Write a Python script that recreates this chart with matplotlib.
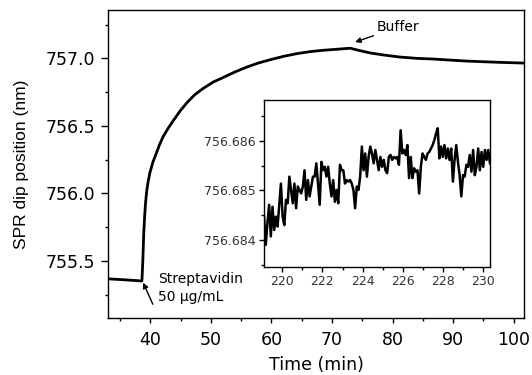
import numpy as np
import matplotlib
matplotlib.use("Agg")
from matplotlib import pyplot as plt
from matplotlib.ticker import MultipleLocator, FormatStrFormatter

plt.rcParams['font.family'] = ['DejaVu Sans']

# main sensorgram (time in min, dip position in nm)
time_main = [33.0, 36.0, 38.6, 38.75, 38.9, 39.05, 39.2, 39.4, 39.6, 39.9, 40.4,
             41.0, 41.5, 42.1, 42.9, 43.8, 44.9, 46.0, 47.3, 48.8, 50.4, 52.1,
             54.0, 55.9, 57.8, 59.8, 62.0, 64.2, 66.4, 68.6, 71.0, 73.0, 74.5,
             76.3, 78.5, 81.1, 84.0, 86.7, 89.5, 92.2, 95.0, 98.0, 101.7]
dip_main = [755.368, 755.360, 755.352, 755.50, 755.70, 755.83, 755.93, 756.02,
            756.08, 756.15, 756.23, 756.30, 756.36, 756.42, 756.48, 756.54,
            756.61, 756.67, 756.73, 756.78, 756.825, 756.86, 756.90, 756.935,
            756.965, 756.99, 757.015, 757.035, 757.05, 757.06, 757.068, 757.075,
            757.058, 757.04, 757.025, 757.01, 757.0, 756.995, 756.987, 756.98,
            756.975, 756.97, 756.965]

# inset: noise at the plateau
inset_start, inset_end = 219.1, 230.33
dip_inset = [
    756.68447, 756.68390, 756.68434, 756.68471, 756.68407, 756.68467, 756.68420,
    756.68447, 756.68427, 756.68471, 756.68514, 756.68447, 756.68430, 756.68481,
    756.68474, 756.68528, 756.68501, 756.68474, 756.68514, 756.68464, 756.68508,
    756.68501, 756.68494, 756.68508, 756.68541, 756.68481, 756.68521, 756.68488,
    756.68508, 756.68528, 756.68528, 756.68555, 756.68514, 756.68471, 756.68558,
    756.68541, 756.68548, 756.68528, 756.68548, 756.68514, 756.68488, 756.68521,
    756.68477, 756.68501, 756.68474, 756.68552, 756.68541, 756.68541, 756.68514,
    756.68521, 756.68518, 756.68521, 756.68514, 756.68501, 756.68464, 756.68508,
    756.68501, 756.68528, 756.68589, 756.68541, 756.68575, 756.68528, 756.68568,
    756.68589, 756.68575, 756.68555, 756.68582, 756.68562, 756.68541, 756.68568,
    756.68548, 756.68562, 756.68541, 756.68535, 756.68568, 756.68572, 756.68562,
    756.68568, 756.68565, 756.68568, 756.68552, 756.68622, 756.68575, 756.68582,
    756.68572, 756.68592, 756.68525, 756.68568, 756.68525, 756.68545, 756.68538,
    756.68541, 756.68494, 756.68548, 756.68575, 756.68568, 756.68562, 756.68575,
    756.68578, 756.68585, 756.68592, 756.68602, 756.68615, 756.68626, 756.68565,
    756.68589, 756.68568, 756.68592, 756.68565, 756.68585, 756.68562, 756.68585,
    756.68518, 756.68562, 756.68592, 756.68558, 756.68531, 756.68488, 756.68531,
    756.68528, 756.68552, 756.68548, 756.68572, 756.68538, 756.68582, 756.68531,
    756.68548, 756.68585, 756.68541, 756.68578, 756.68548, 756.68582, 756.68562,
    756.68582, 756.68555]
time_inset = np.linspace(inset_start, inset_end, len(dip_inset))

fig = plt.figure(figsize=(5.32, 3.75), dpi=100)
ax = fig.add_axes([0.203, 0.152, 0.782, 0.821])

ax.plot(time_main, dip_main, c='k', lw=2.0, solid_joinstyle='round')
ax.set_xlim(33.0, 101.7)
ax.set_ylim(755.078, 757.357)
ax.xaxis.set_major_locator(MultipleLocator(10))
ax.xaxis.set_minor_locator(MultipleLocator(5))
ax.yaxis.set_major_locator(MultipleLocator(0.5))
ax.yaxis.set_minor_locator(MultipleLocator(0.25))
ax.yaxis.set_major_formatter(FormatStrFormatter('%.1f'))
ax.tick_params(which='major', direction='out', width=1, labelsize=12.5)
ax.tick_params(axis='x', which='major', length=3.6, pad=6)
ax.tick_params(axis='y', which='major', length=5, pad=4.5)
ax.tick_params(which='minor', direction='out', length=2.3, width=1)
for s in ax.spines.values():
    s.set_linewidth(1.0)
ax.set_xlabel('Time (min)', fontsize=12.5)
ax.xaxis.set_label_coords(0.5, -0.125)
ax.set_ylabel('SPR dip position (nm)', fontsize=12.5, family='Liberation Sans')
ax.yaxis.set_label_coords(-0.19, 0.5)

ax.annotate('Buffer', xy=(73.8, 757.12), xytext=(77.3, 757.23),
            fontsize=10, va='center', ha='left',
            arrowprops=dict(arrowstyle='-|>', color='k', lw=1, mutation_scale=8,
                            shrinkA=0, shrinkB=0))
ax.annotate('Streptavidin\n50 \u03bcg/mL', xy=(38.8, 755.34), xytext=(41.3, 755.30),
            fontsize=10, va='center', ha='left', linespacing=1.3)
ax.annotate('', xy=(38.8, 755.34), xytext=(40.4, 755.18),
            arrowprops=dict(arrowstyle='-|>', color='k', lw=1, mutation_scale=8,
                            shrinkA=0, shrinkB=0))

ins = fig.add_axes([0.496, 0.288, 0.425, 0.445])
ins.plot(time_inset, dip_inset, c='k', lw=1.8)
ins.set_xlim(219.09, 230.33)
ins.set_ylim(756.68345, 756.68683)
ins.xaxis.set_major_locator(MultipleLocator(2))
ins.xaxis.set_minor_locator(MultipleLocator(1))
ins.yaxis.set_major_locator(MultipleLocator(0.001))
ins.yaxis.set_minor_locator(MultipleLocator(0.0005))
ins.yaxis.set_major_formatter(FormatStrFormatter('%.3f'))
ins.tick_params(which='major', direction='out', length=3.6, width=1,
                labelsize=9, pad=2.5, labelcolor='#333333')
ins.tick_params(which='minor', direction='out', length=2, width=1)
for s in ins.spines.values():
    s.set_linewidth(1.0)

fig.savefig('out.png', dpi=100)
